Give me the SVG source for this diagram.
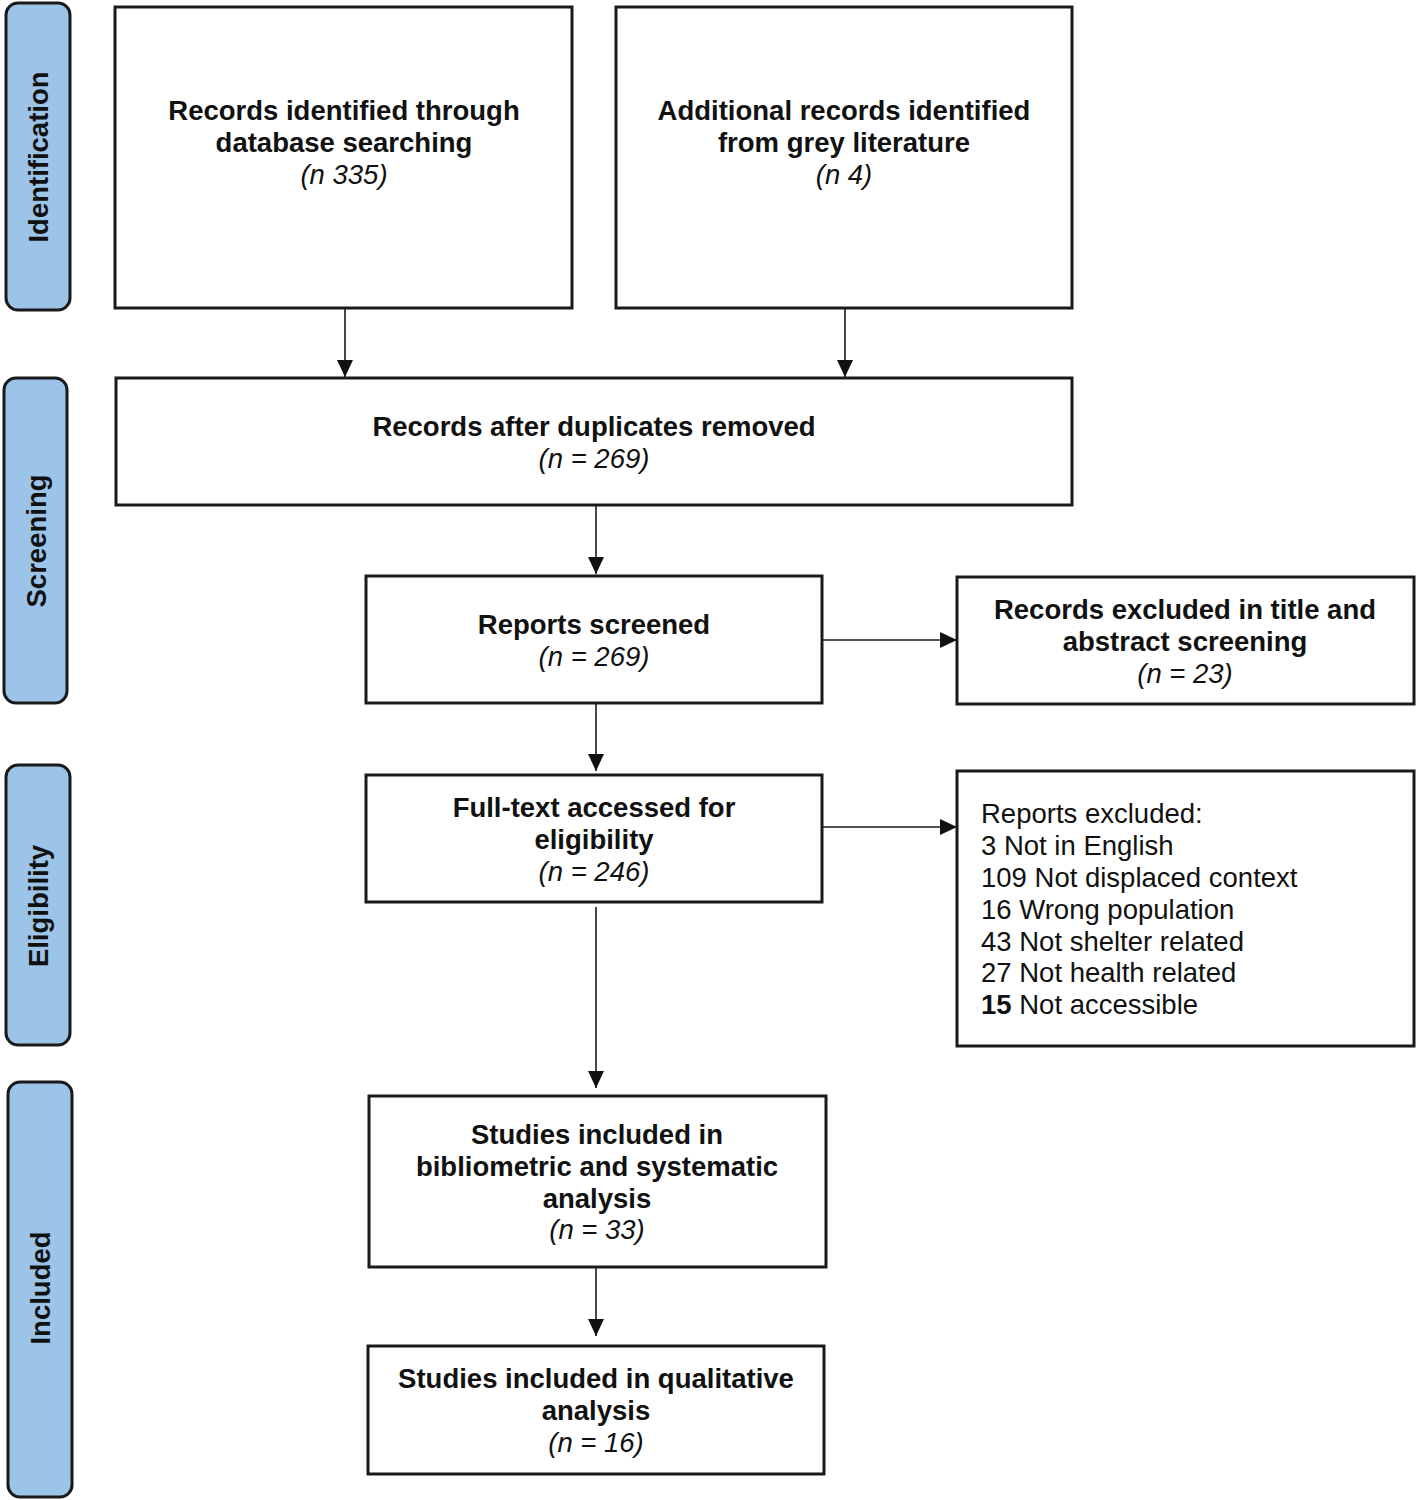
<svg xmlns="http://www.w3.org/2000/svg" width="1416" height="1500" viewBox="0 0 1416 1500">
<style>
.bg{fill:#ffffff}
.phase{fill:#9cc3e8;stroke:#1a1a1a;stroke-width:3}
.box{fill:#ffffff;stroke:#1a1a1a;stroke-width:3}
.t{font-family:"Liberation Sans",Arial,sans-serif;font-size:27.5px;fill:#111111}
.b{font-weight:bold}
.i{font-style:italic}
.c{text-anchor:middle}
.edge{stroke:#1a1a1a;stroke-width:1.6;fill:none;marker-end:url(#ah)}
</style>
<defs>
<marker id="ah" markerUnits="userSpaceOnUse" markerWidth="18" markerHeight="16" refX="17" refY="8" orient="auto">
<path d="M0,0 L17,8 L0,16 Z" fill="#111111"/>
</marker>
</defs>
<rect class="bg" x="0" y="0" width="1416" height="1500"/>

<g id="phase-identification">
<rect class="phase" x="6" y="3" width="64" height="307" rx="12"/>
<text class="t b c" transform="translate(38,157) rotate(-90)" y="10">Identification</text>
</g>
<g id="phase-screening">
<rect class="phase" x="4" y="378" width="63" height="325" rx="12"/>
<text class="t b c" transform="translate(36,541) rotate(-90)" y="10">Screening</text>
</g>
<g id="phase-eligibility">
<rect class="phase" x="6" y="765" width="64" height="280" rx="12"/>
<text class="t b c" transform="translate(38,906) rotate(-90)" y="10">Eligibility</text>
</g>
<g id="phase-included">
<rect class="phase" x="8" y="1082" width="64" height="415" rx="12"/>
<text class="t b c" transform="translate(40,1288) rotate(-90)" y="10">Included</text>
</g>

<g id="connectors">
<line class="edge" x1="345" y1="309" x2="345" y2="377"/>
<line class="edge" x1="845" y1="309" x2="845" y2="377"/>
<line class="edge" x1="596" y1="506" x2="596" y2="574"/>
<line class="edge" x1="823" y1="640" x2="957" y2="640"/>
<line class="edge" x1="596" y1="704" x2="596" y2="771"/>
<line class="edge" x1="823" y1="827" x2="957" y2="827"/>
<line class="edge" x1="596" y1="907" x2="596" y2="1088"/>
<line class="edge" x1="596" y1="1268" x2="596" y2="1336"/>
</g>

<g id="node-database">
<rect class="box" x="115" y="7" width="457" height="301"/>
<text class="t b c" x="344" y="120">Records identified through</text>
<text class="t b c" x="344" y="152">database searching</text>
<text class="t i c" x="344" y="184">(n 335)</text>
</g>
<g id="node-grey">
<rect class="box" x="616" y="7" width="456" height="301"/>
<text class="t b c" x="844" y="120">Additional records identified</text>
<text class="t b c" x="844" y="152">from grey literature</text>
<text class="t i c" x="844" y="184">(n 4)</text>
</g>
<g id="node-duplicates">
<rect class="box" x="116" y="378" width="956" height="127"/>
<text class="t b c" x="594" y="436">Records after duplicates removed</text>
<text class="t i c" x="594" y="468">(n = 269)</text>
</g>
<g id="node-screened">
<rect class="box" x="366" y="576" width="456" height="127"/>
<text class="t b c" x="594" y="634">Reports screened</text>
<text class="t i c" x="594" y="666">(n = 269)</text>
</g>
<g id="node-excluded-title">
<rect class="box" x="957" y="577" width="457" height="127"/>
<text class="t b c" x="1185" y="619">Records excluded in title and</text>
<text class="t b c" x="1185" y="651">abstract screening</text>
<text class="t i c" x="1185" y="683">(n = 23)</text>
</g>
<g id="node-fulltext">
<rect class="box" x="366" y="775" width="456" height="127"/>
<text class="t b c" x="594" y="817">Full-text accessed for</text>
<text class="t b c" x="594" y="849">eligibility</text>
<text class="t i c" x="594" y="881">(n = 246)</text>
</g>
<g id="node-reports-excluded">
<rect class="box" x="957" y="771" width="457" height="275"/>
<text class="t" x="981" y="823">Reports excluded:</text>
<text class="t" x="981" y="855">3 Not in English</text>
<text class="t" x="981" y="887">109 Not displaced context</text>
<text class="t" x="981" y="919">16 Wrong population</text>
<text class="t" x="981" y="951">43 Not shelter related</text>
<text class="t" x="981" y="982">27 Not health related</text>
<text class="t" x="981" y="1014"><tspan class="b">15</tspan> Not accessible</text>
</g>
<g id="node-bibliometric">
<rect class="box" x="369" y="1096" width="457" height="171"/>
<text class="t b c" x="597" y="1144">Studies included in</text>
<text class="t b c" x="597" y="1176">bibliometric and systematic</text>
<text class="t b c" x="597" y="1208">analysis</text>
<text class="t i c" x="597" y="1239">(n = 33)</text>
</g>
<g id="node-qualitative">
<rect class="box" x="368" y="1346" width="456" height="128"/>
<text class="t b c" x="596" y="1388">Studies included in qualitative</text>
<text class="t b c" x="596" y="1420">analysis</text>
<text class="t i c" x="596" y="1452">(n = 16)</text>
</g>
</svg>
